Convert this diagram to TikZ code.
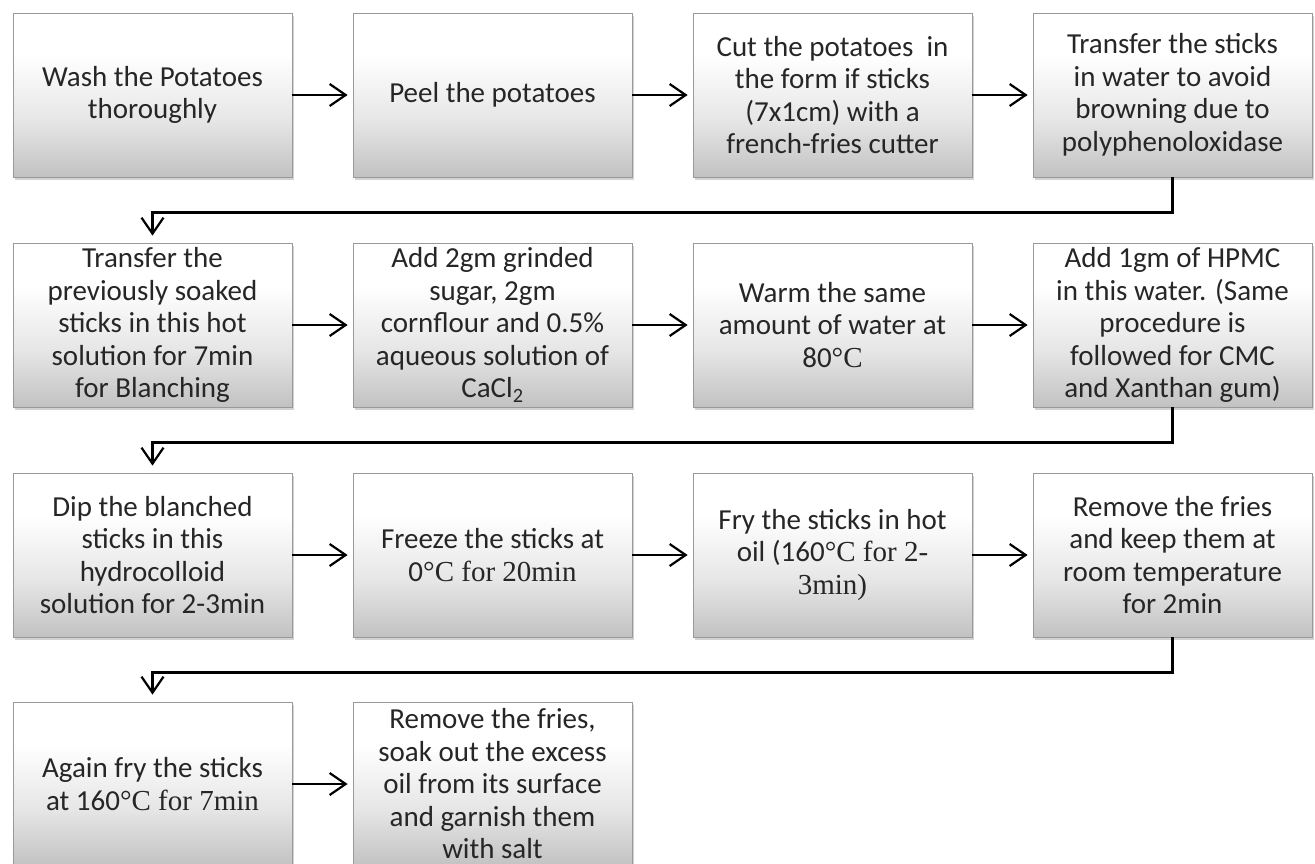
\documentclass[tikz,border=0pt]{standalone}
\usepackage{fontspec}
\setmainfont{Carlito}
\newfontfamily\tnr{Liberation Serif}
\usetikzlibrary{arrows.meta,shadows,calc}
\pgfdeclareverticalshading{boxshade}{100bp}{color(0bp)=(black!24); color(25bp)=(black!24); color(42bp)=(black!10); color(62bp)=(white); color(100bp)=(white)}
\tikzset{
stepbox/.style={draw=black!40, line width=0.8pt, shading=boxshade,
  minimum width=279pt, minimum height=164pt, inner sep=0pt, align=center, text=black!85,
  font=\fontsize{29}{32.5}\selectfont,
  drop shadow={shadow xshift=1.5pt, shadow yshift=-3pt, opacity=.35}},
flow/.style={->, line width=2.2pt, shorten >=5pt},
back/.style={->, line width=2.2pt, shorten >=7pt}
}
\begin{document}
\begin{tikzpicture}[x=1pt, y=-1pt, >={Straight Barb[length=16pt,width=22pt]}]
\useasboundingbox (0,0) rectangle (1315,863);
\clip (0,0) rectangle (1315,863);
\fill[white] (0,0) rectangle (1315,863);
\node[stepbox] (wash)   at (152.5,95) {Wash the Potatoes\\thoroughly};
\node[stepbox] (peel)   at (492.5,95) {Peel the potatoes};
\node[stepbox] (cut)    at (832.5,95) {Cut the potatoes~~in\\the form if sticks\\(7x1cm) with a\\french-fries cutter};
\node[stepbox] (soak)   at (1172.5,95) {Transfer the sticks\\in water to avoid\\browning due to\\polyphenoloxidase};
\node[stepbox] (blanch) at (152.5,325) {Transfer the\\previously soaked\\sticks in this hot\\solution for 7min\\for Blanching};
\node[stepbox] (sugar)  at (492.5,325) {Add 2gm grinded\\sugar, 2gm\\cornflour and 0.5\%\\aqueous solution of\\CaCl\textsubscript{2}};
\node[stepbox] (warm)   at (832.5,325) {Warm the same\\amount of water at\\80{\tnr °C}};
\node[stepbox] (hpmc)   at (1172.5,325) {Add 1gm of HPMC\\in this water. (Same\\procedure is\\followed for CMC\\and Xanthan gum)};
\node[stepbox] (dip)    at (152.5,555) {Dip the blanched\\sticks in this\\hydrocolloid\\solution for 2-3min};
\node[stepbox] (freeze) at (492.5,555) {Freeze the sticks at\\0{\tnr °C for 20min}};
\node[stepbox] (fry)    at (832.5,555) {Fry the sticks in hot\\oil (160{\tnr °C for 2-}\\{\tnr 3min)}};
\node[stepbox] (rest)   at (1172.5,555) {Remove the fries\\and keep them at\\room temperature\\for 2min};
\node[stepbox] (refry)  at (152.5,784) {Again fry the sticks\\at 160{\tnr °C for 7min}};
\node[stepbox] (salt)   at (492.5,784) {Remove the fries,\\soak out the excess\\oil from its surface\\and garnish them\\with salt};
\draw[flow] (wash)--(peel);
\draw[flow] (peel)--(cut);
\draw[flow] (cut)--(soak);
\draw[flow] (blanch)--(sugar);
\draw[flow] (sugar)--(warm);
\draw[flow] (warm)--(hpmc);
\draw[flow] (dip)--(freeze);
\draw[flow] (freeze)--(fry);
\draw[flow] (fry)--(rest);
\draw[flow] (refry)--(salt);
\draw[back] (soak.south) -- ++(0,35) -| (blanch.north);
\draw[back] (hpmc.south) -- ++(0,35) -| (dip.north);
\draw[back] (rest.south) -- ++(0,35) -| (refry.north);
\end{tikzpicture}
\end{document}
